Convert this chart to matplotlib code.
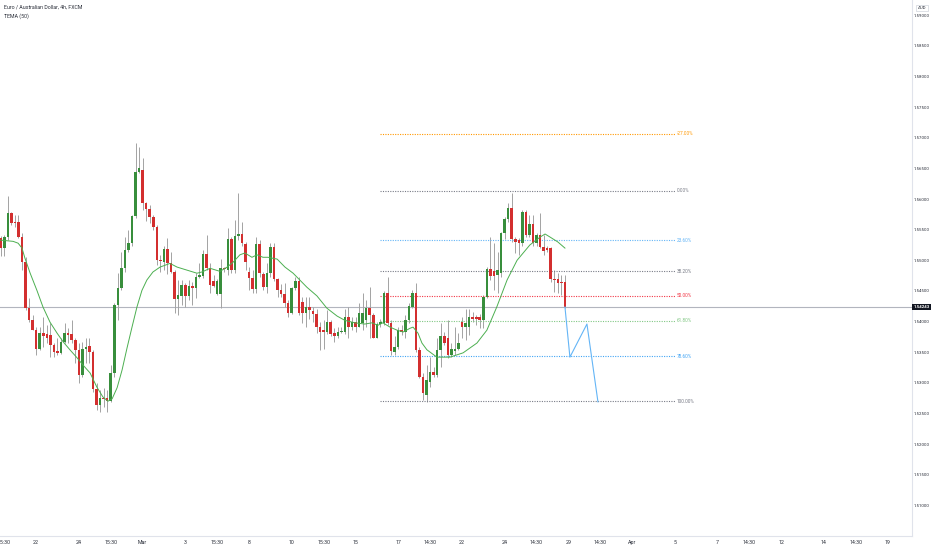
import matplotlib
matplotlib.use("Agg")
import matplotlib.pyplot as plt
import matplotlib.transforms as mtransforms
import numpy as np

plt.rcParams['font.family'] = ['Roboto', 'DejaVu Sans']

# EURAUD 4h candles (oldest first)
opens = [1.5536, 1.5520, 1.5538, 1.5577, 1.5562, 1.5562, 1.5538, 1.5497, 1.5422, 1.5402,
         1.5387, 1.5356, 1.5381, 1.5379, 1.5378, 1.5361, 1.5352, 1.5348, 1.5366, 1.5381,
         1.5379, 1.5370, 1.5353, 1.5313, 1.5355, 1.5360, 1.5350, 1.5290, 1.5264, 1.5275,
         1.5275, 1.5270, 1.5316, 1.5427, 1.5455, 1.5487, 1.5517, 1.5528, 1.5572, 1.5644,
         1.5647, 1.5593, 1.5583, 1.5570, 1.5555, 1.5500, 1.5497, 1.5518, 1.5495, 1.5481,
         1.5437, 1.5442, 1.5460, 1.5442, 1.5458, 1.5455, 1.5473, 1.5474, 1.5510, 1.5487,
         1.5466, 1.5445, 1.5445, 1.5487, 1.5484, 1.5535, 1.5484, 1.5539, 1.5543, 1.5527,
         1.5481, 1.5471, 1.5453, 1.5527, 1.5477, 1.5456, 1.5479, 1.5522, 1.5469, 1.5451,
         1.5445, 1.5430, 1.5414, 1.5455, 1.5466, 1.5432, 1.5414, 1.5424, 1.5417, 1.5412,
         1.5391, 1.5386, 1.5383, 1.5399, 1.5381, 1.5376, 1.5383, 1.5383, 1.5407, 1.5392,
         1.5399, 1.5392, 1.5397, 1.5402, 1.5422, 1.5410, 1.5374, 1.5396, 1.5397, 1.5446,
         1.5397, 1.5350, 1.5358, 1.5387, 1.5383, 1.5402, 1.5424, 1.5446, 1.5353, 1.5310,
         1.5280, 1.5301, 1.5318, 1.5313, 1.5353, 1.5376, 1.5374, 1.5345, 1.5352, 1.5356,
         1.5400, 1.5392, 1.5392, 1.5408, 1.5407, 1.5407, 1.5402, 1.5440, 1.5486, 1.5482,
         1.5476, 1.5479, 1.5544, 1.5567, 1.5585, 1.5535, 1.5533, 1.5528, 1.5579, 1.5541,
         1.5559, 1.5528, 1.5541, 1.5521, 1.5520, 1.5520, 1.5469, 1.5469, 1.5464, 1.5464]
highs = [1.5539, 1.5541, 1.5605, 1.5579, 1.5574, 1.5574, 1.5544, 1.5505, 1.5438, 1.5410,
         1.5391, 1.5391, 1.5407, 1.5394, 1.5397, 1.5365, 1.5373, 1.5374, 1.5397, 1.5389,
         1.5402, 1.5373, 1.5365, 1.5366, 1.5374, 1.5373, 1.5353, 1.5300, 1.5288, 1.5291,
         1.5288, 1.5329, 1.5430, 1.5479, 1.5513, 1.5538, 1.5549, 1.5574, 1.5691, 1.5685,
         1.5667, 1.5596, 1.5590, 1.5574, 1.5557, 1.5508, 1.5524, 1.5536, 1.5513, 1.5484,
         1.5468, 1.5468, 1.5463, 1.5468, 1.5464, 1.5479, 1.5495, 1.5517, 1.5541, 1.5495,
         1.5476, 1.5469, 1.5503, 1.5489, 1.5552, 1.5538, 1.5566, 1.5610, 1.5562, 1.5530,
         1.5489, 1.5484, 1.5538, 1.5533, 1.5481, 1.5495, 1.5528, 1.5528, 1.5471, 1.5461,
         1.5463, 1.5435, 1.5456, 1.5473, 1.5473, 1.5440, 1.5440, 1.5440, 1.5424, 1.5420,
         1.5399, 1.5402, 1.5419, 1.5402, 1.5389, 1.5391, 1.5391, 1.5420, 1.5424, 1.5407,
         1.5407, 1.5430, 1.5446, 1.5435, 1.5456, 1.5414, 1.5399, 1.5404, 1.5450, 1.5473,
         1.5402, 1.5376, 1.5391, 1.5394, 1.5410, 1.5430, 1.5451, 1.5463, 1.5358, 1.5316,
         1.5329, 1.5342, 1.5326, 1.5374, 1.5397, 1.5383, 1.5402, 1.5365, 1.5391, 1.5381,
         1.5407, 1.5420, 1.5420, 1.5415, 1.5410, 1.5412, 1.5443, 1.5489, 1.5538, 1.5528,
         1.5513, 1.5546, 1.5571, 1.5593, 1.5610, 1.5538, 1.5536, 1.5582, 1.5582, 1.5574,
         1.5574, 1.5544, 1.5577, 1.5541, 1.5523, 1.5521, 1.5484, 1.5479, 1.5476, 1.5476]
lows = [1.5507, 1.5507, 1.5533, 1.5557, 1.5554, 1.5536, 1.5484, 1.5419, 1.5399, 1.5386,
        1.5345, 1.5353, 1.5358, 1.5365, 1.5342, 1.5343, 1.5345, 1.5347, 1.5365, 1.5365,
        1.5365, 1.5332, 1.5300, 1.5310, 1.5332, 1.5332, 1.5285, 1.5256, 1.5252, 1.5260,
        1.5252, 1.5268, 1.5310, 1.5402, 1.5451, 1.5481, 1.5513, 1.5524, 1.5569, 1.5642,
        1.5582, 1.5564, 1.5561, 1.5549, 1.5492, 1.5481, 1.5484, 1.5477, 1.5479, 1.5414,
        1.5410, 1.5427, 1.5424, 1.5435, 1.5427, 1.5438, 1.5471, 1.5471, 1.5484, 1.5446,
        1.5456, 1.5443, 1.5422, 1.5481, 1.5476, 1.5479, 1.5479, 1.5533, 1.5524, 1.5484,
        1.5451, 1.5446, 1.5446, 1.5473, 1.5451, 1.5446, 1.5473, 1.5466, 1.5440, 1.5440,
        1.5424, 1.5407, 1.5412, 1.5451, 1.5410, 1.5397, 1.5391, 1.5404, 1.5399, 1.5381,
        1.5353, 1.5355, 1.5379, 1.5376, 1.5366, 1.5373, 1.5381, 1.5379, 1.5373, 1.5386,
        1.5383, 1.5391, 1.5387, 1.5391, 1.5374, 1.5373, 1.5373, 1.5391, 1.5394, 1.5394,
        1.5345, 1.5345, 1.5356, 1.5378, 1.5374, 1.5397, 1.5422, 1.5350, 1.5308, 1.5272,
        1.5268, 1.5293, 1.5310, 1.5310, 1.5326, 1.5361, 1.5340, 1.5342, 1.5345, 1.5353,
        1.5374, 1.5370, 1.5378, 1.5399, 1.5394, 1.5389, 1.5389, 1.5438, 1.5468, 1.5451,
        1.5446, 1.5473, 1.5535, 1.5562, 1.5530, 1.5512, 1.5508, 1.5524, 1.5538, 1.5538,
        1.5524, 1.5524, 1.5520, 1.5508, 1.5513, 1.5464, 1.5448, 1.5446, 1.5443, 1.5422]
closes = [1.5520, 1.5538, 1.5577, 1.5561, 1.5561, 1.5538, 1.5497, 1.5422, 1.5402, 1.5387,
          1.5356, 1.5381, 1.5376, 1.5374, 1.5361, 1.5350, 1.5348, 1.5366, 1.5381, 1.5378,
          1.5370, 1.5353, 1.5313, 1.5355, 1.5358, 1.5350, 1.5290, 1.5264, 1.5275, 1.5273,
          1.5270, 1.5316, 1.5427, 1.5455, 1.5487, 1.5517, 1.5528, 1.5572, 1.5644, 1.5650,
          1.5593, 1.5583, 1.5570, 1.5555, 1.5500, 1.5499, 1.5518, 1.5495, 1.5481, 1.5437,
          1.5443, 1.5460, 1.5442, 1.5458, 1.5455, 1.5473, 1.5476, 1.5510, 1.5487, 1.5460,
          1.5458, 1.5466, 1.5487, 1.5486, 1.5535, 1.5484, 1.5539, 1.5543, 1.5528, 1.5497,
          1.5471, 1.5453, 1.5527, 1.5479, 1.5456, 1.5479, 1.5522, 1.5469, 1.5451, 1.5445,
          1.5430, 1.5414, 1.5455, 1.5466, 1.5414, 1.5414, 1.5424, 1.5419, 1.5412, 1.5391,
          1.5383, 1.5383, 1.5399, 1.5379, 1.5376, 1.5383, 1.5384, 1.5407, 1.5392, 1.5399,
          1.5392, 1.5414, 1.5414, 1.5422, 1.5410, 1.5374, 1.5396, 1.5399, 1.5446, 1.5397,
          1.5352, 1.5358, 1.5387, 1.5383, 1.5402, 1.5425, 1.5446, 1.5353, 1.5310, 1.5283,
          1.5305, 1.5318, 1.5313, 1.5353, 1.5376, 1.5365, 1.5345, 1.5356, 1.5356, 1.5365,
          1.5392, 1.5397, 1.5408, 1.5405, 1.5404, 1.5402, 1.5440, 1.5486, 1.5474, 1.5474,
          1.5484, 1.5544, 1.5567, 1.5585, 1.5535, 1.5530, 1.5528, 1.5579, 1.5541, 1.5559,
          1.5528, 1.5541, 1.5521, 1.5515, 1.5517, 1.5469, 1.5468, 1.5463, 1.5463, 1.5424]

# TEMA(50) line, points (bar index, price)
tema_bar = [0, 3.5, 4.9, 6.0, 6.8, 8.3, 10.2, 11.9, 13.9, 15.9, 17.6, 19.5, 21.5, 23.2, 25.2,
            27.1, 28.8, 30.2, 31.4, 32.8, 34.2, 35.6, 37.0, 38.4, 39.8, 41.2, 42.9, 44.9, 47.7,
            49.7, 52.5, 55.3, 56.7, 59.0, 61.8, 63.8, 65.5, 67.4, 68.8, 70.8, 72.2, 73.9, 75.3,
            77.9, 80.1, 82.4, 86.3, 89.1, 91.9, 94.8, 97.0, 99.8, 102.6, 104.6, 106.3, 107.7,
            109.7, 111.7, 113.4, 115.3, 116.2, 117.6, 118.7, 120.1, 122.9, 126.6, 130.3, 134.2,
            137.0, 139.8, 142.7, 145.5, 149.1, 152.0, 153.4, 154.8, 157.0, 159.0]
tema_val = [1.5533, 1.5531, 1.5528, 1.5520, 1.5504, 1.5479, 1.5451, 1.5424, 1.5399, 1.5381,
            1.5367, 1.5354, 1.5341, 1.5329, 1.5316, 1.5293, 1.5277, 1.5270, 1.5274, 1.5292,
            1.5321, 1.5357, 1.5391, 1.5424, 1.5451, 1.5468, 1.5481, 1.5489, 1.5495, 1.5489,
            1.5484, 1.5479, 1.5481, 1.5487, 1.5482, 1.5489, 1.5497, 1.5509, 1.5512, 1.5505,
            1.5509, 1.5505, 1.5505, 1.5502, 1.5489, 1.5479, 1.5456, 1.5442, 1.5422, 1.5409,
            1.5402, 1.5398, 1.5396, 1.5398, 1.5394, 1.5398, 1.5391, 1.5386, 1.5383, 1.5389,
            1.5391, 1.5381, 1.5365, 1.5354, 1.5342, 1.5342, 1.5349, 1.5365, 1.5386, 1.5424,
            1.5468, 1.5500, 1.5525, 1.5538, 1.5543, 1.5538, 1.5530, 1.5520]

# Fibonacci retracement drawing
fib_high = 1.5614
fib_low = 1.5270
fib_ratios = [-0.27, 0.0, 0.236, 0.382, 0.5, 0.618, 0.786, 1.0]
fib_labels = ['-27.00%', '0.00%', '23.60%', '38.20%', '50.00%', '61.80%', '78.60%', '100.00%']
fib_colors = ['#ff9800', '#787b86', '#64b5f6', '#787b86', '#f23645', '#81c784', '#42a5f5', '#787b86']
fib_start, fib_end = 107, 190

# projected path (bar index, price)
proj_bar = [159, 160.4, 165.2, 168.3]
proj_val = [1.5424, 1.5342, 1.5396, 1.5269]

last_price = 1.54243
price_ticks = [1.510, 1.515, 1.520, 1.525, 1.530, 1.535, 1.540, 1.545, 1.550,
               1.555, 1.560, 1.565, 1.570, 1.575, 1.580, 1.585, 1.590]
date_pos = [1, 10, 22, 31, 40, 52, 61, 70, 82, 91, 100, 112, 121, 130, 142, 151,
            160, 169, 178, 190, 202, 211, 220, 232, 241, 250]
date_lab = ['15:30', '22', '24', '15:30', 'Mar', '3', '15:30', '8', '10', '15:30', '15',
            '17', '14:30', '22', '24', '14:30', '29', '14:30', 'Apr', '5', '7', '14:30',
            '12', '14', '14:30', '19']

UP = '#388e3c'
DOWN = '#d32f2f'
WICK = '#a3a3a3'
TXT = '#2a2e39'

fig = plt.figure(figsize=(9.32, 5.5), dpi=100)
ax = fig.add_axes([0, 14 / 550, 912 / 932, 536 / 550])

o = np.array(opens)
h = np.array(highs)
l = np.array(lows)
c = np.array(closes)
x = np.arange(len(o))
col = np.where(c >= o, UP, DOWN)

ax.axhline(last_price, color='#b2b5be', lw=0.8, zorder=1)
ax.vlines(x, l, h, color=WICK, lw=0.7, zorder=2)
body = np.maximum(np.abs(c - o), 0.00012)
ax.bar(x, body, bottom=np.minimum(o, c), width=0.72, color=col, linewidth=0, zorder=3)

ax.plot(tema_bar, tema_val, color='#4caf50', lw=0.7, zorder=4)

for r, lab, fc in zip(fib_ratios, fib_labels, fib_colors):
    p = fib_high - r * (fib_high - fib_low)
    ax.hlines(p, fib_start, fib_end, color=fc, lw=0.8, linestyles=(0, (1, 1.2)), zorder=2)
    ax.text(fib_end + 0.6, p, lab, color=fc, fontsize=3.4, va='center', ha='left')

ax.plot(proj_bar, proj_val, color='#64b5f6', lw=0.8, zorder=5)

ax.set_xlim(-0.2, 256.8)
ax.set_ylim(1.5050, 1.5925)

ax.yaxis.tick_right()
ax.set_yticks(price_ticks)
ax.set_yticklabels(['{:.5f}'.format(v) for v in price_ticks])
ax.set_xticks(date_pos)
ax.set_xticklabels(date_lab)
ax.tick_params(axis='x', length=0, labelsize=3.8, colors=TXT, pad=3)
ax.tick_params(axis='y', length=0, labelsize=3.2, colors=TXT, pad=1.2)

for s in ['top', 'left']:
    ax.spines[s].set_visible(False)
ax.spines['right'].set_color('#e0e3eb')
ax.spines['bottom'].set_color('#e0e3eb')
ax.spines['right'].set_linewidth(0.8)
ax.spines['bottom'].set_linewidth(0.8)

trans = mtransforms.blended_transform_factory(ax.transAxes, ax.transData)
ax.text(1.0015, last_price, '{:.5f}'.format(last_price), transform=trans, fontsize=3.2,
        color='white', fontweight='bold', va='center', ha='left',
        bbox=dict(boxstyle='square,pad=0.25', fc='#131722', ec='none'), zorder=10)

fig.text(922 / 932, 1 - 8 / 550, 'AUD', fontsize=3.2, color=TXT, ha='center', va='center',
         bbox=dict(boxstyle='square,pad=0.3', fc='white', ec='#d1d4dc', lw=0.5))
fig.text(4 / 932, 1 - 7 / 550, 'Euro / Australian Dollar, 4h, FXCM', fontsize=3.8,
         color=TXT, ha='left', va='center')
fig.text(4 / 932, 1 - 16 / 550, 'TEMA (50)', fontsize=3.8, color=TXT, ha='left', va='center')

fig.savefig('out.png', dpi=100)
